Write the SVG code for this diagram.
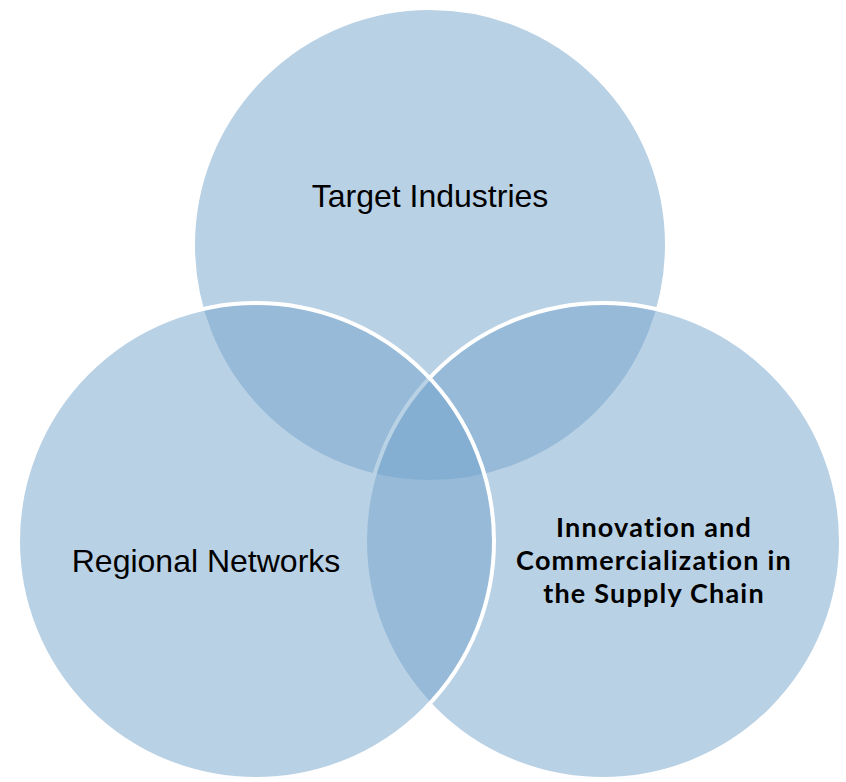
<svg xmlns="http://www.w3.org/2000/svg" width="846" height="782" viewBox="0 0 846 782">
<style>
.c{fill:#73a3cb;fill-opacity:0.5;stroke:#fff;stroke-width:4}
.t{font-family:"Liberation Sans",Arial,sans-serif;font-size:32px;fill:#000;text-anchor:middle}
.b{font-family:Lato,"Open Sans",sans-serif;font-weight:700;font-size:27px;letter-spacing:1.2px;fill:#000;text-anchor:middle}
</style>
<rect width="846" height="782" fill="#fff"/>
<g id="top"><circle class="c" cx="430" cy="245" r="237"/><text class="t" x="430" y="207">Target Industries</text></g>
<g id="right"><circle class="c" cx="603" cy="541" r="238"/></g>
<g id="left"><circle class="c" cx="256" cy="541" r="238"/><text class="t" x="206" y="572">Regional Networks</text></g>
<g id="right-label"><text class="b" x="654" y="537">Innovation and</text><text class="b" x="654" y="570">Commercialization in</text><text class="b" x="654" y="603">the Supply Chain</text></g>
<g id="connectors"/>
</svg>
